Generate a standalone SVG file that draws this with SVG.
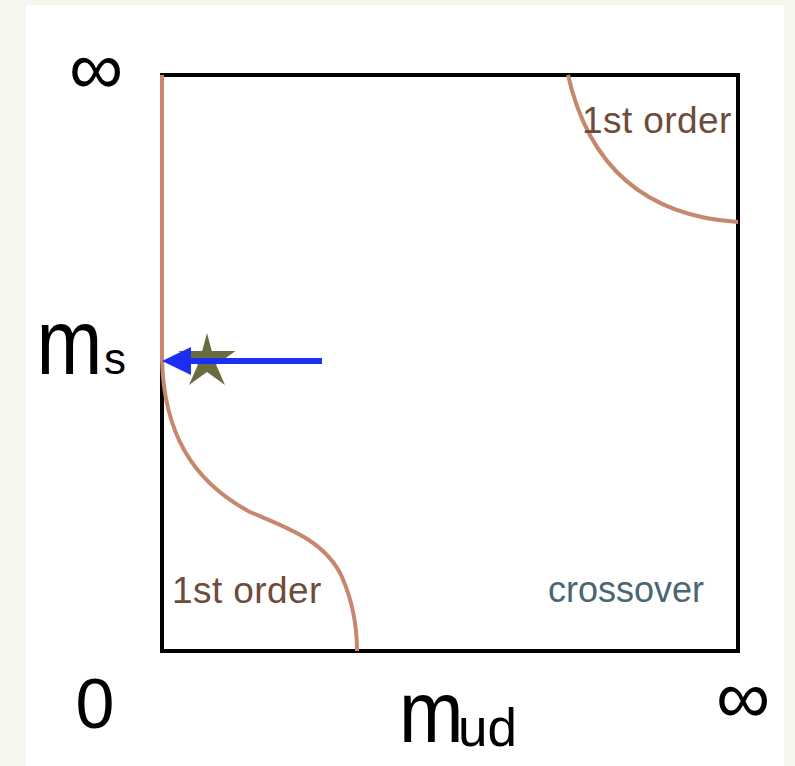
<svg xmlns="http://www.w3.org/2000/svg" width="795" height="766" viewBox="0 0 795 766">
<style>
.lbl{font-family:"Liberation Sans",Arial,sans-serif;fill:#000}
.ord{font-family:"Liberation Sans",Arial,sans-serif;font-size:37px;fill:#6e4b3b;letter-spacing:0.4px}
.cross{font-family:"Liberation Sans",Arial,sans-serif;font-size:36px;fill:#4a6672}
.curve{fill:none;stroke:#c6876c;stroke-width:4}
</style>
<rect x="0" y="0" width="795" height="766" fill="#f7f6ee"/>
<rect x="26" y="5" width="758" height="761" fill="#ffffff"/>
<g id="frame">
<rect x="162" y="75" width="576" height="576" fill="none" stroke="#000" stroke-width="4"/>
</g>
<g id="curves">
<path class="curve" d="M162,75 L162,360 C164,430 190,480 250,512 C285,527 325,540 342,577 C352,600 357,625 357,651"/>
<path class="curve" d="M568,75 C585,150 630,215 738,222"/>
</g>
<g id="star">
<polygon fill="#6b6b40" points="207,333 211.8,351 235.6,351 216.1,364.8 225,385 207,372 189,385 197.9,364.8 178.4,351 202.2,351"/>
</g>
<g id="connectors">
<line x1="322" y1="361" x2="188" y2="361" stroke="#1b2ff2" stroke-width="6"/>
<polygon fill="#1b2ff2" points="162,361 191,347 191,375"/>
</g>
<g id="labels">
<text class="lbl" x="96" y="94" font-size="76" text-anchor="middle">∞</text>
<text class="lbl" x="743" y="723" font-size="76" text-anchor="middle">∞</text>
<text class="lbl" x="95" y="728" font-size="70" text-anchor="middle">0</text>
<text class="lbl" font-size="92" transform="translate(36.5,374) scale(0.86,1)">m</text>
<text class="lbl" x="104" y="374" font-size="44">s</text>
<text class="lbl" font-size="88" transform="translate(399,742) scale(0.88,1)">m</text>
<text class="lbl" x="458" y="746" font-size="53">ud</text>
<text class="ord" x="582" y="133">1st order</text>
<text class="ord" x="172" y="603">1st order</text>
<text class="cross" x="548" y="602">crossover</text>
</g>
</svg>
